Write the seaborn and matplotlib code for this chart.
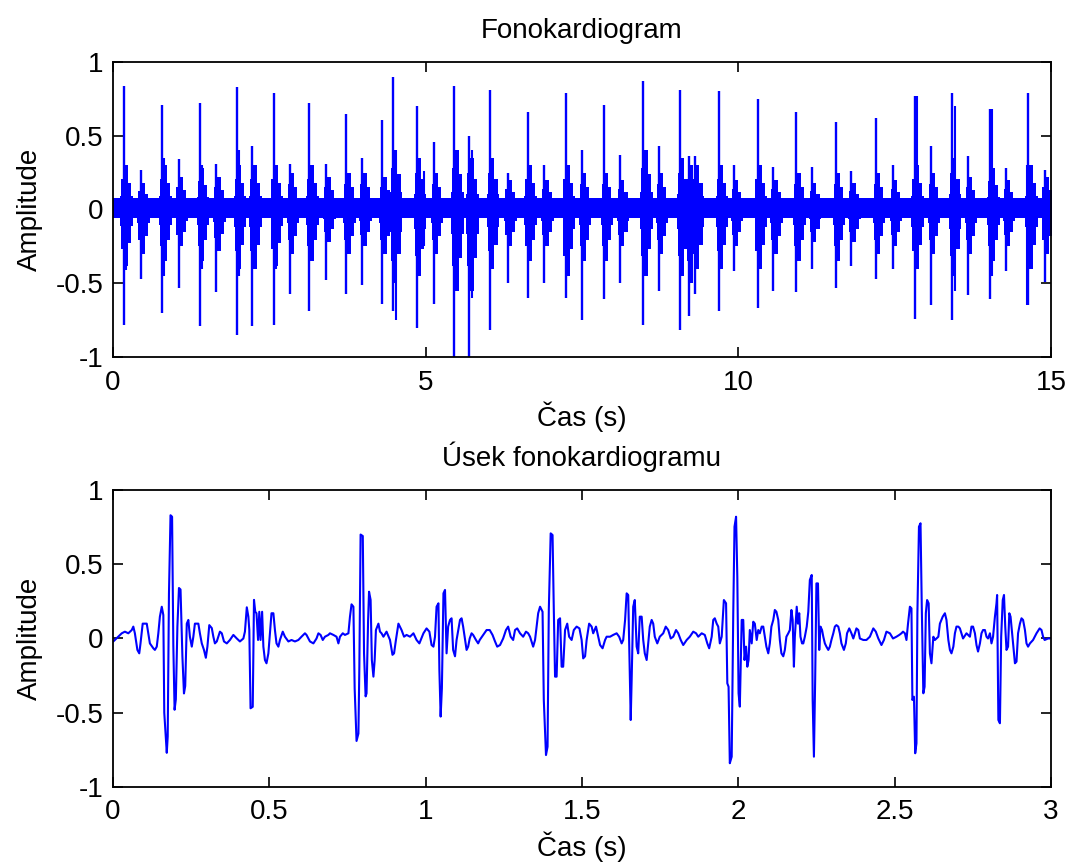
import matplotlib
matplotlib.use("Agg")
import matplotlib.pyplot as plt
import numpy as np
import pandas as pd
import seaborn as sns

# ---------------- data: full 15 s phonocardiogram ----------------
# main sound events (S1 / S2): time, extreme spike values, burst body amplitude
beat_t = [0.17, 0.44, 0.79, 1.05, 1.39, 1.65, 1.98, 2.23, 2.57, 2.83,
          3.14, 3.41, 3.73, 3.99, 4.31, 4.48, 4.86, 5.13, 5.46, 5.70,
          6.03, 6.31, 6.63, 6.90, 7.24, 7.50, 7.85, 8.11, 8.48, 8.73,
          9.07, 9.21, 9.31, 9.69, 9.93, 10.31, 10.56, 10.93, 11.18, 11.56,
          11.81, 12.20, 12.47, 12.82, 13.08, 13.42, 13.67, 14.03, 14.28, 14.64, 14.90]
beat_hi = [0.84, 0.27, 0.71, 0.34, 0.72, 0.31, 0.83, 0.43, 0.79, 0.31,
           0.72, 0.31, 0.65, 0.35, 0.61, 0.90, 0.70, 0.46, 0.84, 0.50,
           0.81, 0.25, 0.66, 0.30, 0.79, 0.40, 0.71, 0.37, 0.87, 0.43,
           0.81, 0.36, 0.36, 0.80, 0.30, 0.75, 0.29, 0.66, 0.29, 0.59,
           0.26, 0.62, 0.30, 0.77, 0.43, 0.79, 0.36, 0.68, 0.28, 0.79, 0.27]
beat_lo = [-0.78, -0.47, -0.70, -0.53, -0.79, -0.56, -0.85, -0.79, -0.78, -0.57,
           -0.69, -0.48, -0.57, -0.51, -0.64, -0.69, -0.80, -0.64, -1.05, -1.05,
           -0.82, -0.50, -0.60, -0.50, -0.60, -0.75, -0.61, -0.50, -0.78, -0.55,
           -0.82, -0.72, -0.57, -0.69, -0.42, -0.67, -0.55, -0.56, -0.40, -0.53,
           -0.38, -0.47, -0.40, -0.74, -0.65, -0.75, -0.58, -0.61, -0.42, -0.65, -0.49]
body_hi = [0.30, 0.18, 0.30, 0.22, 0.28, 0.22, 0.30, 0.30, 0.30, 0.25,
           0.30, 0.22, 0.25, 0.25, 0.22, 0.40, 0.35, 0.25, 0.40, 0.35,
           0.35, 0.20, 0.30, 0.20, 0.30, 0.25, 0.25, 0.20, 0.40, 0.25,
           0.35, 0.30, 0.30, 0.30, 0.20, 0.30, 0.20, 0.25, 0.18, 0.25,
           0.18, 0.25, 0.20, 0.30, 0.25, 0.35, 0.22, 0.28, 0.20, 0.30, 0.22]
body_lo = [-0.38, -0.30, -0.35, -0.25, -0.35, -0.28, -0.40, -0.40, -0.38, -0.30,
           -0.35, -0.22, -0.30, -0.25, -0.30, -0.50, -0.45, -0.30, -0.55, -0.55,
           -0.40, -0.25, -0.35, -0.25, -0.45, -0.35, -0.35, -0.25, -0.45, -0.30,
           -0.45, -0.50, -0.40, -0.40, -0.25, -0.40, -0.30, -0.35, -0.22, -0.35,
           -0.22, -0.30, -0.25, -0.40, -0.30, -0.45, -0.30, -0.35, -0.25, -0.40, -0.30]
# secondary spikes inside bursts
sec_t = [0.20, 0.82, 1.42, 2.01, 2.60, 4.53, 4.97, 5.74, 8.52, 12.86, 13.47, 14.06, 14.61]
sec_hi = [0.30, 0.35, 0.30, 0.40, 0.30, 0.40, 0.26, 0.40, 0.27, 0.77, 0.70, 0.68, 0.30]
sec_lo = [-0.41, -0.45, -0.40, -0.45, -0.40, -0.75, -0.25, -0.60, -0.31, -0.38, -0.55, -0.45, -0.65]
# background noise band
band_hi = 0.075
band_lo = -0.06

# ---------------- data: first 3 s segment ----------------
seg_t = [0.001, 0.028, 0.038, 0.049, 0.060, 0.065, 0.070, 0.078, 0.084, 0.088,
         0.095, 0.108, 0.113, 0.118, 0.129, 0.134, 0.140, 0.145, 0.150, 0.156,
         0.161, 0.164, 0.172, 0.175, 0.179, 0.184, 0.189, 0.193, 0.197, 0.201,
         0.206, 0.211, 0.216, 0.222, 0.227, 0.231, 0.236, 0.241, 0.246, 0.252,
         0.257, 0.262, 0.273, 0.278, 0.284, 0.291, 0.297, 0.302, 0.308, 0.316,
         0.321, 0.326, 0.332, 0.342, 0.348, 0.355, 0.364, 0.374, 0.385, 0.396,
         0.406, 0.417, 0.422, 0.428, 0.433, 0.436, 0.440, 0.447, 0.451, 0.455,
         0.459, 0.464, 0.468, 0.472, 0.477, 0.481, 0.486, 0.491, 0.497, 0.502,
         0.507, 0.513, 0.518, 0.523, 0.529, 0.534, 0.543, 0.550, 0.561, 0.571,
         0.582, 0.593, 0.603, 0.614, 0.619, 0.630, 0.641, 0.651, 0.657, 0.664,
         0.671, 0.678, 0.689, 0.694, 0.705, 0.715, 0.721, 0.726, 0.735, 0.742,
         0.753, 0.758, 0.763, 0.769, 0.773, 0.779, 0.785, 0.788, 0.792, 0.799,
         0.803, 0.808, 0.811, 0.816, 0.819, 0.824, 0.828, 0.833, 0.837, 0.841,
         0.849, 0.854, 0.859, 0.865, 0.875, 0.886, 0.894, 0.899, 0.905, 0.913,
         0.923, 0.931, 0.939, 0.950, 0.961, 0.971, 0.980,
         0.993, 1.003, 1.012, 1.019, 1.025, 1.030, 1.035, 1.041, 1.044, 1.048,
         1.052, 1.057, 1.062, 1.067, 1.072, 1.078, 1.083, 1.088, 1.094, 1.099,
         1.110, 1.115, 1.120, 1.131, 1.136, 1.141, 1.147, 1.152, 1.161, 1.168,
         1.173, 1.184, 1.195, 1.205, 1.214, 1.222, 1.229, 1.238, 1.248, 1.257,
         1.264, 1.272, 1.280, 1.286, 1.293, 1.302, 1.312, 1.321, 1.328, 1.334,
         1.344, 1.350, 1.355, 1.360, 1.366, 1.374, 1.378, 1.385, 1.390, 1.394,
         1.400, 1.406, 1.410, 1.414, 1.419, 1.424, 1.430, 1.435, 1.440, 1.446,
         1.453, 1.459, 1.467, 1.474, 1.483, 1.492, 1.499, 1.504, 1.510, 1.515,
         1.523, 1.531, 1.536, 1.545, 1.552, 1.558, 1.566, 1.574, 1.579, 1.590,
         1.600, 1.611, 1.619, 1.627, 1.632, 1.638, 1.643, 1.648, 1.651, 1.656,
         1.659, 1.664, 1.669, 1.675, 1.680, 1.685, 1.691, 1.696, 1.701, 1.707,
         1.712, 1.717, 1.723, 1.728, 1.733, 1.741, 1.749, 1.760, 1.768, 1.776,
         1.784, 1.792, 1.801, 1.808, 1.816, 1.824, 1.835, 1.845, 1.856, 1.865,
         1.872, 1.883, 1.893, 1.901, 1.907, 1.915, 1.920, 1.925, 1.931, 1.936,
         1.941, 1.947, 1.954, 1.961, 1.965, 1.969, 1.973, 1.979, 1.984, 1.988,
         1.993, 1.997, 2.001,
         2.005, 2.011, 2.016, 2.020, 2.025, 2.029, 2.033, 2.037, 2.043, 2.048,
         2.053, 2.059, 2.064, 2.069, 2.075, 2.080, 2.085, 2.090, 2.096, 2.101,
         2.106, 2.112, 2.117, 2.122, 2.128, 2.133, 2.138, 2.144, 2.149, 2.154,
         2.160, 2.165, 2.170, 2.174, 2.178, 2.181, 2.187, 2.191, 2.195, 2.199,
         2.204, 2.208, 2.213, 2.219, 2.224, 2.229, 2.235, 2.238, 2.242, 2.246,
         2.250, 2.255, 2.259, 2.263, 2.268, 2.272, 2.277, 2.282, 2.288, 2.293,
         2.298, 2.304, 2.309, 2.314, 2.320, 2.325, 2.330, 2.338, 2.344, 2.348,
         2.355, 2.362, 2.368, 2.378, 2.384, 2.389, 2.400, 2.410, 2.421, 2.432,
         2.440, 2.448, 2.458, 2.466, 2.474, 2.485, 2.495, 2.506, 2.515, 2.522,
         2.527, 2.533, 2.538, 2.543, 2.549, 2.554, 2.557, 2.562, 2.566, 2.570,
         2.573, 2.578, 2.583, 2.587, 2.592, 2.596, 2.600, 2.604, 2.609, 2.613,
         2.618, 2.624, 2.629, 2.634, 2.640, 2.645, 2.654, 2.661, 2.666, 2.672,
         2.677, 2.682, 2.688, 2.693, 2.698, 2.704, 2.709, 2.714, 2.719, 2.730,
         2.741, 2.746, 2.751, 2.757, 2.762, 2.767, 2.773, 2.778, 2.783, 2.789,
         2.794, 2.799, 2.805, 2.810, 2.815, 2.821, 2.826, 2.828, 2.832, 2.837,
         2.841, 2.846, 2.850, 2.854, 2.858, 2.863, 2.867, 2.871, 2.875, 2.879,
         2.885, 2.890, 2.895, 2.901, 2.906, 2.911, 2.917, 2.922, 2.927, 2.933,
         2.943, 2.954, 2.964, 2.970, 2.975, 2.980, 2.991, 2.997]
seg_y = [-0.02, 0.035, 0.046, 0.035, 0.057, 0.08, 0.035, -0.077, -0.10, -0.033,
         0.10, 0.10, 0.035, -0.033, -0.066, -0.077, -0.055, 0.035, 0.147, 0.214,
         0.158, -0.50, -0.77, -0.66, 0.30, 0.83, 0.82, -0.05, -0.48, -0.41,
         0.08, 0.34, 0.33, -0.12, -0.37, -0.32, 0.10, 0.125, 0.012, -0.055,
         0.012, 0.10, 0.10, 0.035, -0.033, -0.077, -0.13, -0.055, 0.09, 0.07,
         0.012, -0.033, -0.02, 0.046, 0.035, -0.02, -0.033, -0.01, 0.024, 0.0,
         -0.02, 0.0, 0.046, 0.21, 0.147, 0.057, -0.47, -0.46, 0.26, 0.18,
         0.17, -0.01, 0.18, -0.01, 0.18, -0.055, -0.145, -0.167, -0.10, 0.035,
         0.17, 0.17, 0.057, -0.033, -0.055, -0.01, 0.046, 0.012, -0.02, -0.01,
         -0.02, -0.01, 0.012, 0.035, 0.024, -0.02, -0.033, 0.0, 0.035, 0.024,
         -0.01, 0.012, 0.024, 0.035, 0.024, 0.012, -0.033, 0.012, 0.035, 0.024,
         0.035, 0.147, 0.23, 0.214, -0.336, -0.69, -0.64, -0.19, 0.70, 0.69,
         -0.10, -0.39, -0.37, 0.125, 0.315, 0.26, -0.145, -0.257, -0.145, 0.057,
         0.10, 0.046, 0.035, 0.012, 0.046, -0.01, -0.11, -0.10, -0.01, 0.10,
         0.057, 0.012, 0.024, 0.012, 0.035, -0.01, -0.033,
         0.035, 0.068, 0.046, -0.044, -0.055, 0.012, 0.214, 0.237, -0.212, -0.526,
         -0.336, 0.304, 0.327, -0.10, 0.08, 0.125, 0.136, -0.077, -0.12, -0.01,
         0.125, 0.136, 0.08, -0.077, -0.055, 0.0, 0.035, 0.024, -0.01, -0.033,
         -0.01, 0.024, 0.057, 0.057, 0.024, -0.02, -0.055, -0.044, 0.0, 0.057,
         0.08, 0.012, -0.01, 0.057, 0.068, 0.035, 0.012, 0.046, 0.035, 0.012,
         -0.055, -0.01, 0.08, 0.17, 0.214, 0.18, -0.414, -0.785, -0.729, 0.192,
         0.708, 0.697, 0.192, -0.257, -0.257, 0.125, 0.136, -0.19, -0.19, 0.057,
         0.10, 0.012, -0.01, 0.057, 0.08, 0.068, -0.01, -0.134, -0.12, -0.01,
         0.10, 0.08, 0.035, 0.08, 0.012, -0.044, -0.066, -0.01, 0.012, 0.012,
         0.024, 0.035, 0.012, -0.033, -0.01, 0.125, 0.304, 0.293, -0.01, -0.549,
         -0.279, 0.214, 0.259, -0.055, -0.10, 0.147, 0.147, -0.01, -0.10, -0.145,
         -0.033, 0.08, 0.125, 0.10, 0.012, -0.033, 0.012, 0.035, 0.08, 0.057,
         0.0, 0.012, 0.057, 0.035, -0.01, -0.044, -0.01, 0.012, 0.046, 0.035,
         0.012, 0.035, 0.024, -0.033, -0.066, 0.012, 0.125, 0.136, 0.10, 0.08,
         -0.033, 0.012, 0.259, 0.237, -0.302, -0.325, -0.84, -0.796, 0.17, 0.753,
         0.82, 0.416, -0.369,
         -0.459, 0.125, 0.125, -0.145, -0.055, -0.19, -0.145, 0.057, -0.033, 0.113,
         0.10, -0.01, 0.057, 0.035, 0.08, 0.08, 0.012, -0.055, -0.10, -0.033,
         0.08, 0.125, 0.192, 0.18, 0.125, -0.01, -0.10, -0.12, -0.077, 0.012,
         0.035, 0.057, 0.192, 0.125, -0.19, 0.012, 0.214, 0.10, 0.17, 0.012,
         -0.033, -0.033, 0.012, 0.08, 0.18, 0.394, 0.428, -0.414, -0.796, -0.279,
         0.371, 0.371, -0.077, 0.08, 0.057, 0.012, -0.033, -0.055, -0.077, -0.055,
         -0.01, 0.035, 0.08, 0.09, 0.08, 0.035, -0.033, -0.077, -0.033, 0.035,
         0.068, 0.035, 0.0, 0.068, 0.057, 0.0, -0.01, -0.01, 0.012, 0.068,
         0.046, 0.0, -0.044, -0.01, 0.046, 0.035, 0.0, 0.012, 0.024, 0.035,
         0.046, 0.035, -0.01, 0.10, 0.214, 0.203, -0.414, -0.392, -0.773, -0.706,
         0.17, 0.753, 0.776, 0.214, -0.369, -0.325, 0.17, 0.259, 0.237, -0.10,
         -0.167, 0.012, -0.01, 0.0, 0.012, 0.10, 0.147, 0.17, 0.125, -0.01,
         -0.077, -0.10, -0.055, 0.035, 0.08, 0.08, 0.068, 0.035, 0.0, 0.035,
         0.012, 0.08, 0.08, 0.035, -0.044, -0.088, -0.033, 0.035, 0.057, 0.057,
         0.012, 0.0, 0.035, -0.033, 0.012, 0.147, 0.237, 0.293, -0.549, -0.571,
         0.012, 0.259, 0.293, 0.08, -0.077, -0.055, 0.17, 0.147, 0.057, -0.033,
         -0.167, -0.156, 0.035, 0.10, 0.136, 0.125, 0.057, -0.033, -0.055, -0.033,
         -0.01, 0.035, 0.068, 0.057, 0.012, -0.01, 0.0, 0.0]

# ---------------- text ----------------
title_top = "Fonokardiogram"
title_bottom = "Úsek fonokardiogramu"
xlabel = "Čas (s)"
ylabel = "Amplitude"
xticks_top = [0, 5, 10, 15]
xticks_bottom = [0, 0.5, 1, 1.5, 2, 2.5, 3]
xticklabels_bottom = ["0", "0.5", "1", "1.5", "2", "2.5", "3"]
yticks = [-1, -0.5, 0, 0.5, 1]
yticklabels = ["-1", "-0.5", "0", "0.5", "1"]

# ---------------- style ----------------
sns.set_theme(style="white")
plt.rcParams['font.family'] = ['Liberation Sans', 'DejaVu Sans']
plt.rcParams['text.color'] = 'black'
plt.rcParams['axes.labelcolor'] = 'black'
BLUE = (0.0, 0.0, 1.0)
FS = 20
burst_dt = [-0.05, -0.02, 0.0, 0.05, 0.09, 0.15]   # burst body profile (style)
burst_w = [0.3, 0.7, 1.0, 1.0, 0.6, 0.3]

fig = plt.figure(figsize=(10.67, 8.63), dpi=100)
ax1 = fig.add_axes([0.1059, 0.5863, 0.879, 0.3419])
ax2 = fig.add_axes([0.1059, 0.0881, 0.879, 0.3441])

# top: noise band + burst bodies + spikes
ax1.fill_between([0, 15], [band_lo, band_lo], [band_hi, band_hi], color=BLUE, lw=0)
for t, bh, bl in zip(beat_t, body_hi, body_lo):
    xs = [t + d for d in burst_dt]
    hi = [max(w * bh, band_hi) for w in burst_w]
    lo = [min(w * bl, band_lo) for w in burst_w]
    ax1.fill_between(xs, lo, hi, color=BLUE, lw=0, step='mid')
ax1.vlines(beat_t, beat_lo, beat_hi, color=BLUE, lw=1.7)
ax1.vlines(sec_t, sec_lo, sec_hi, color=BLUE, lw=1.5)

# bottom: segment waveform
seg = pd.DataFrame({"t": seg_t, "y": seg_y})
sns.lineplot(data=seg, x="t", y="y", ax=ax2, color=BLUE, lw=1.5,
             sort=False, estimator=None)

for ax, xmax, xt, xtl, title in [(ax1, 15, xticks_top, [str(v) for v in xticks_top], title_top),
                                 (ax2, 3, xticks_bottom, xticklabels_bottom, title_bottom)]:
    ax.set_xlim(0, xmax)
    ax.set_ylim(-1, 1)
    ax.set_xticks(xt)
    ax.set_xticklabels(xtl)
    ax.set_yticks(yticks)
    ax.set_yticklabels(yticklabels)
    ax.tick_params(direction='in', length=7, width=1.2, top=True, right=True,
                   bottom=True, left=True, labelsize=FS, pad=9,
                   colors='black', labelcolor='black')
    ax.tick_params(axis='y', pad=7)
    for s in ax.spines.values():
        s.set_visible(True)
        s.set_color('black')
        s.set_linewidth(1.3)
    ax.set_xlabel(xlabel, fontsize=FS, labelpad=4, color='black')
    ax.set_ylabel(ylabel, fontsize=FS, labelpad=9, color='black')
    ax.set_title(title, fontsize=FS, pad=17, color='black')
    ax.set_facecolor('white')

fig.savefig("out.png", dpi=100, facecolor='white')
